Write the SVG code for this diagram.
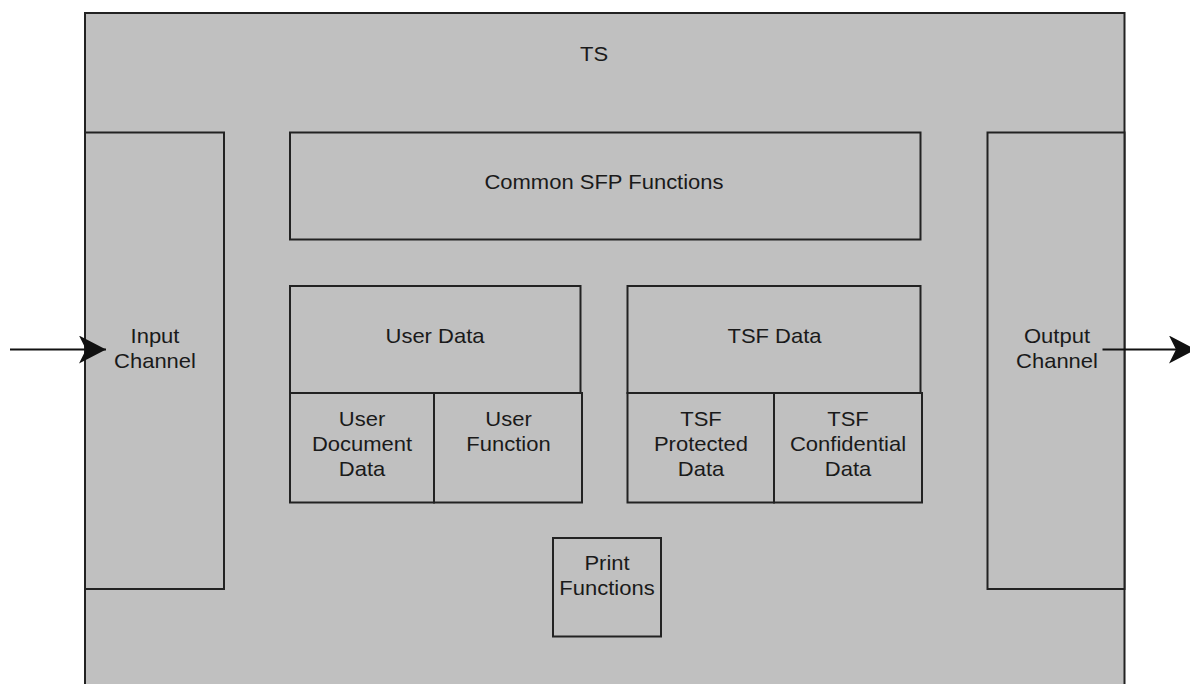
<svg xmlns="http://www.w3.org/2000/svg" width="1190" height="684" viewBox="0 0 1190 684">
  <style>
    .box { fill: #c0c0c0; stroke: #222222; stroke-width: 2; }
    .t { font-family: "Liberation Sans", Arial, sans-serif; font-size: 20px; fill: #1a1a1a; text-anchor: middle; }
    .edge { fill: none; stroke: #111111; stroke-width: 2; }
  </style>
  <defs>
    <marker id="arrow" viewBox="0 0 27 28" refX="27" refY="14" markerWidth="27" markerHeight="28" markerUnits="userSpaceOnUse" orient="auto">
      <path d="M0,0 L27,14 L0,28 L7,14 Z" fill="#111111"/>
    </marker>
  </defs>
  <rect x="0" y="0" width="1190" height="684" fill="#ffffff"/>

  <g id="ts">
    <rect class="box" x="85" y="13" width="1039.5" height="700"/>
    <text class="t" transform="translate(594,60.5) scale(1.1,1)" x="0" y="0">TS</text>
  </g>

  <g id="input-channel">
    <rect class="box" x="85" y="132.5" width="139" height="456.5"/>
    <text class="t" transform="translate(155,343) scale(1.1,1)"><tspan x="0" y="0">Input</tspan><tspan x="0" y="25">Channel</tspan></text>
  </g>

  <g id="output-channel">
    <rect class="box" x="987.5" y="132.5" width="137" height="456.5"/>
    <text class="t" transform="translate(1057,343) scale(1.1,1)"><tspan x="0" y="0">Output</tspan><tspan x="0" y="25">Channel</tspan></text>
  </g>

  <g id="common-sfp">
    <rect class="box" x="290" y="132.5" width="630.5" height="107"/>
    <text class="t" transform="translate(604,189) scale(1.1,1)" x="0" y="0">Common SFP Functions</text>
  </g>

  <g id="user-data">
    <rect class="box" x="290" y="286" width="290.5" height="107"/>
    <text class="t" transform="translate(435,343) scale(1.1,1)" x="0" y="0">User Data</text>
  </g>

  <g id="user-document-data">
    <rect class="box" x="290" y="393" width="144" height="109.5"/>
    <text class="t" transform="translate(362,426) scale(1.1,1)"><tspan x="0" y="0">User</tspan><tspan x="0" y="25">Document</tspan><tspan x="0" y="50">Data</tspan></text>
  </g>

  <g id="user-function">
    <rect class="box" x="434" y="393" width="148" height="109.5"/>
    <text class="t" transform="translate(508.5,426) scale(1.1,1)"><tspan x="0" y="0">User</tspan><tspan x="0" y="25">Function</tspan></text>
  </g>

  <g id="tsf-data">
    <rect class="box" x="627.5" y="286" width="293" height="107"/>
    <text class="t" transform="translate(774.5,343) scale(1.1,1)" x="0" y="0">TSF Data</text>
  </g>

  <g id="tsf-protected-data">
    <rect class="box" x="627.5" y="393" width="146.5" height="109.5"/>
    <text class="t" transform="translate(701,426) scale(1.1,1)"><tspan x="0" y="0">TSF</tspan><tspan x="0" y="25">Protected</tspan><tspan x="0" y="50">Data</tspan></text>
  </g>

  <g id="tsf-confidential-data">
    <rect class="box" x="774" y="393" width="148" height="109.5"/>
    <text class="t" transform="translate(848,426) scale(1.1,1)"><tspan x="0" y="0">TSF</tspan><tspan x="0" y="25">Confidential</tspan><tspan x="0" y="50">Data</tspan></text>
  </g>

  <g id="print-functions">
    <rect class="box" x="553" y="538" width="108" height="98.5"/>
    <text class="t" transform="translate(607,570) scale(1.1,1)"><tspan x="0" y="0">Print</tspan><tspan x="0" y="25">Functions</tspan></text>
  </g>

  <g id="connectors">
    <line class="edge" x1="10" y1="349.5" x2="106" y2="349.5" marker-end="url(#arrow)"/>
    <line class="edge" x1="1102.5" y1="349.5" x2="1196" y2="349.5" marker-end="url(#arrow)"/>
  </g>
</svg>
